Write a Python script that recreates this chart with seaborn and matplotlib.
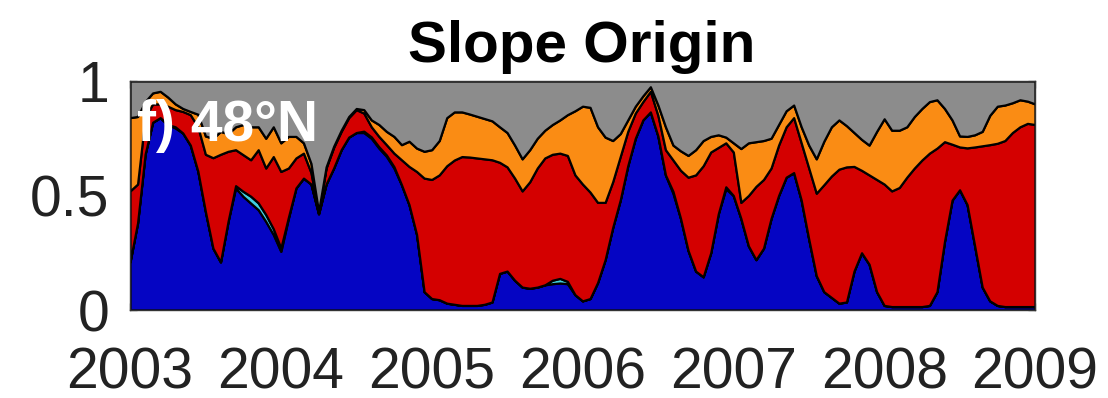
import numpy as np
import pandas as pd
import matplotlib
matplotlib.use("Agg")
import matplotlib.pyplot as plt
from matplotlib.ticker import MultipleLocator
import seaborn as sns

# Sampling of the record (decimal years)
start_year = 2003.0
step_years = 0.05

# Cumulative upper boundary of the blue (bottom) water-mass fraction
blue_top = [
    0.21, 0.38, 0.68, 0.82, 0.84, 0.81, 0.795, 0.773, 0.72, 0.606,
    0.43, 0.27, 0.21, 0.387, 0.533, 0.496, 0.467, 0.438, 0.387, 0.33,
    0.256, 0.40, 0.533, 0.576, 0.55, 0.42, 0.55, 0.62, 0.70, 0.755,
    0.775, 0.775, 0.75, 0.707, 0.671, 0.62, 0.547, 0.46, 0.33, 0.08,
    0.05, 0.045, 0.03, 0.025, 0.02, 0.02, 0.02, 0.025, 0.035, 0.16,
    0.17, 0.13, 0.10, 0.095, 0.10, 0.11, 0.115, 0.118, 0.115, 0.067,
    0.04, 0.05, 0.12, 0.22, 0.36, 0.48, 0.63, 0.75, 0.83, 0.865,
    0.76, 0.59, 0.51, 0.40, 0.26, 0.17, 0.145, 0.25, 0.42, 0.53,
    0.50, 0.40, 0.28, 0.22, 0.27, 0.40, 0.50, 0.58, 0.60, 0.48,
    0.31, 0.15, 0.08, 0.055, 0.03, 0.035, 0.17, 0.25, 0.20, 0.08,
    0.02, 0.015, 0.015, 0.015, 0.015, 0.015, 0.02, 0.08, 0.30, 0.48,
    0.525, 0.46, 0.28, 0.10, 0.04, 0.02, 0.015, 0.015, 0.015, 0.015,
    0.015,
]

# Thickness of the thin cyan fraction sitting on the blue one
cyan_part = [
    0.0, 0.0, 0.0, 0.0, 0.0, 0.0, 0.005, 0.0, 0.0, 0.0,
    0.0, 0.0, 0.0, 0.0, 0.01, 0.022, 0.03, 0.03, 0.03, 0.025,
    0.015, 0.005, 0.0, 0.0, 0.0, 0.0, 0.0, 0.0, 0.0, 0.0,
    0.0, 0.006, 0.006, 0.006, 0.006, 0.006, 0.0, 0.0, 0.0, 0.0,
    0.0, 0.0, 0.0, 0.0, 0.0, 0.0, 0.0, 0.0, 0.0, 0.0,
    0.0, 0.0, 0.0, 0.0, 0.0, 0.0, 0.015, 0.02, 0.01, 0.0,
    0.0, 0.0, 0.0, 0.0, 0.0, 0.0, 0.0, 0.0, 0.0, 0.0,
    0.0, 0.0, 0.008, 0.0, 0.0, 0.0, 0.0, 0.0, 0.0, 0.008,
    0.0, 0.0, 0.0, 0.0, 0.0, 0.0, 0.0, 0.0, 0.0, 0.0,
    0.0, 0.0, 0.0, 0.0, 0.0, 0.0, 0.0, 0.0, 0.0, 0.0,
    0.0, 0.0, 0.0, 0.0, 0.0, 0.0, 0.0, 0.0, 0.0, 0.0,
    0.0, 0.0, 0.0, 0.0, 0.0, 0.0, 0.0, 0.0, 0.0, 0.0,
    0.0,
]

# Cumulative upper boundary of the red fraction
red_top = [
    0.52, 0.55, 0.84, 0.90, 0.90, 0.89, 0.875, 0.867, 0.853, 0.80,
    0.68, 0.665, 0.68, 0.693, 0.70, 0.678, 0.656, 0.70, 0.62, 0.67,
    0.605, 0.62, 0.664, 0.685, 0.60, 0.425, 0.62, 0.71, 0.78, 0.84,
    0.875, 0.86, 0.80, 0.758, 0.722, 0.685, 0.656, 0.627, 0.605, 0.576,
    0.57, 0.59, 0.63, 0.655, 0.67, 0.668, 0.664, 0.66, 0.656, 0.645,
    0.625, 0.576, 0.52, 0.56, 0.62, 0.664, 0.68, 0.685, 0.675, 0.59,
    0.55, 0.515, 0.47, 0.47, 0.56, 0.67, 0.78, 0.86, 0.91, 0.955,
    0.85, 0.70, 0.655, 0.61, 0.58, 0.59, 0.63, 0.69, 0.71, 0.73,
    0.69, 0.47, 0.50, 0.54, 0.57, 0.62, 0.72, 0.80, 0.84, 0.73,
    0.62, 0.51, 0.547, 0.585, 0.615, 0.625, 0.627, 0.61, 0.59, 0.57,
    0.55, 0.52, 0.535, 0.58, 0.62, 0.655, 0.685, 0.707, 0.735, 0.724,
    0.712, 0.708, 0.712, 0.717, 0.722, 0.728, 0.74, 0.775, 0.80, 0.815,
    0.81,
]

# Cumulative upper boundary of the orange fraction (grey fills the rest)
orange_top = [
    0.84, 0.845, 0.91, 0.948, 0.955, 0.93, 0.90, 0.88, 0.867, 0.855,
    0.76, 0.75, 0.78, 0.77, 0.80, 0.81, 0.80, 0.80, 0.75, 0.80,
    0.73, 0.758, 0.758, 0.73, 0.64, 0.43, 0.625, 0.715, 0.785, 0.845,
    0.88, 0.875, 0.83, 0.81, 0.78, 0.758, 0.722, 0.737, 0.707, 0.693,
    0.70, 0.74, 0.84, 0.865, 0.865, 0.856, 0.846, 0.836, 0.826, 0.80,
    0.775, 0.72, 0.66, 0.70, 0.75, 0.785, 0.81, 0.83, 0.853, 0.87,
    0.89, 0.885, 0.80, 0.755, 0.74, 0.77, 0.83, 0.89, 0.935, 0.975,
    0.895, 0.80, 0.72, 0.695, 0.675, 0.70, 0.74, 0.758, 0.765, 0.755,
    0.73, 0.705, 0.73, 0.735, 0.74, 0.75, 0.81, 0.87, 0.895, 0.80,
    0.72, 0.66, 0.737, 0.80, 0.83, 0.805, 0.775, 0.745, 0.72, 0.78,
    0.835, 0.785, 0.785, 0.80, 0.845, 0.88, 0.91, 0.918, 0.88, 0.83,
    0.76, 0.758, 0.765, 0.78, 0.85, 0.89, 0.895, 0.905, 0.918, 0.912,
    0.90,
]

year_ticks = [2003, 2004, 2005, 2006, 2007, 2008, 2009]
y_ticks = [0, 0.5, 1]
y_tick_labels = ["0", "0.5", "1"]
layer_colors = ["#0505C3", "#40D0E0", "#D40000", "#FA8C14", "#8C8C8C"]

years = start_year + step_years * np.arange(len(blue_top))
df = pd.DataFrame({
    "year": years,
    "blue_top": blue_top,
    "cyan": cyan_part,
    "red_top": red_top,
    "orange_top": orange_top,
})
df["blue"] = df["blue_top"]
df["red"] = df["red_top"] - df["blue_top"] - df["cyan"]
df["orange"] = df["orange_top"] - df["red_top"]
df["grey"] = 1.0 - df["orange_top"]

sns.set_style("ticks")
plt.rcParams["font.family"] = ["Liberation Sans", "DejaVu Sans"]

fig = plt.figure(figsize=(11.08, 3.98), dpi=100)
ax = fig.add_axes([130 / 1108, 88 / 398, 905 / 1108, 229 / 398])

palette = sns.color_palette(layer_colors)
ax.stackplot(
    df["year"], df["blue"], df["cyan"], df["red"], df["orange"], df["grey"],
    colors=palette, edgecolor="black", linewidth=1.6,
)

ax.set_xlim(2003, 2009)
ax.set_ylim(0, 1)
ax.set_xticks(year_ticks)
ax.set_xticklabels([str(y) for y in year_ticks])
ax.xaxis.set_minor_locator(MultipleLocator(0.2))
ax.set_yticks(y_ticks)
ax.set_yticklabels(y_tick_labels)

ax.tick_params(axis="both", which="both", direction="in",
               top=True, right=True, colors="#333333", labelcolor="#222222")
ax.tick_params(axis="both", which="major", length=5, width=0.9, labelsize=41)
ax.tick_params(axis="both", which="minor", length=2.5, width=0.7)
ax.tick_params(axis="x", which="major", pad=26)
ax.tick_params(axis="y", which="major", pad=15)
for spine in ax.spines.values():
    spine.set_color("#333333")
    spine.set_linewidth(1.0)

ax.text(7 / 905, (310 - 141) / 229, "f) 48°N", transform=ax.transAxes,
        color="white", fontsize=41, fontweight="bold",
        ha="left", va="baseline")

fig.text(582 / 1108, (398 - 62) / 398, "Slope Origin", fontsize=42,
         fontweight="bold", ha="center", va="baseline", color="black")

fig.savefig("out.png", dpi=100)
